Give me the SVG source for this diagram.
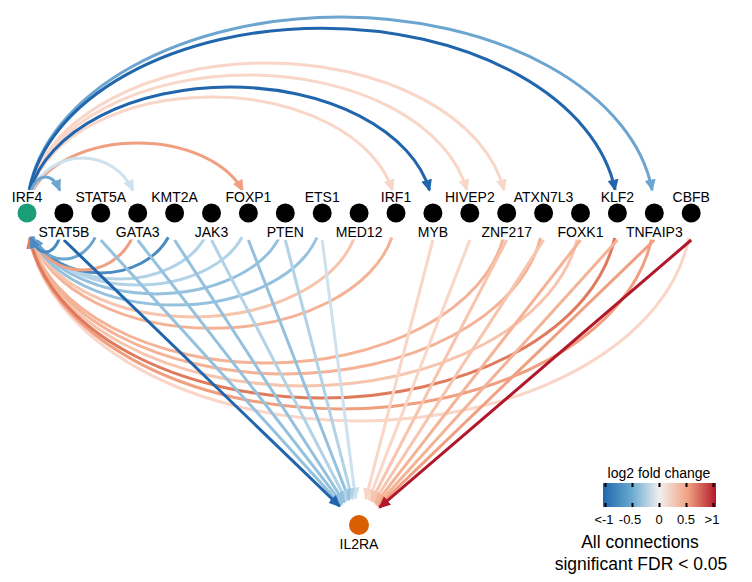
<svg xmlns="http://www.w3.org/2000/svg" width="752" height="582" viewBox="0 0 752 582">
<defs>
<style>
.e{fill:none;stroke-width:3}
.B1{stroke:#2166ac;marker-end:url(#mB1)}
.B2{stroke:#4a8ac0;marker-end:url(#mB2)}
.B3{stroke:#6ca6d0;marker-end:url(#mB3)}
.B4{stroke:#94c1dd;marker-end:url(#mB4)}
.B5{stroke:#b2d3e7;marker-end:url(#mB5)}
.B6{stroke:#cde1ee;marker-end:url(#mB6)}
.R6{stroke:#f9d6c7;marker-end:url(#mR6)}
.R5{stroke:#f7c5ae;marker-end:url(#mR5)}
.R4{stroke:#f4b396;marker-end:url(#mR4)}
.R3{stroke:#f0a081;marker-end:url(#mR3)}
.R2{stroke:#df7a5c;marker-end:url(#mR2)}
.R1{stroke:#b2182b;marker-end:url(#mR1)}
.lb{fill:#ffffff}
.nd{fill:#000000}
.t{font-family:"Liberation Sans",Arial,Helvetica,sans-serif;font-size:14px;text-anchor:middle;fill:#000}
.lg{font-family:"Liberation Sans",Arial,Helvetica,sans-serif;text-anchor:middle;fill:#000}
</style>
<marker id="mB1" viewBox="0 0 12 12" refX="10.5" refY="6" markerWidth="12" markerHeight="12" markerUnits="userSpaceOnUse" orient="auto"><path d="M0,0.5L12,6L0,11.5z" fill="#2166ac"/></marker>
<marker id="mB2" viewBox="0 0 12 12" refX="10.5" refY="6" markerWidth="12" markerHeight="12" markerUnits="userSpaceOnUse" orient="auto"><path d="M0,0.5L12,6L0,11.5z" fill="#4a8ac0"/></marker>
<marker id="mB3" viewBox="0 0 12 12" refX="10.5" refY="6" markerWidth="12" markerHeight="12" markerUnits="userSpaceOnUse" orient="auto"><path d="M0,0.5L12,6L0,11.5z" fill="#6ca6d0"/></marker>
<marker id="mB4" viewBox="0 0 12 12" refX="10.5" refY="6" markerWidth="12" markerHeight="12" markerUnits="userSpaceOnUse" orient="auto"><path d="M0,0.5L12,6L0,11.5z" fill="#94c1dd"/></marker>
<marker id="mB5" viewBox="0 0 12 12" refX="10.5" refY="6" markerWidth="12" markerHeight="12" markerUnits="userSpaceOnUse" orient="auto"><path d="M0,0.5L12,6L0,11.5z" fill="#b2d3e7"/></marker>
<marker id="mB6" viewBox="0 0 12 12" refX="10.5" refY="6" markerWidth="12" markerHeight="12" markerUnits="userSpaceOnUse" orient="auto"><path d="M0,0.5L12,6L0,11.5z" fill="#cde1ee"/></marker>
<marker id="mR6" viewBox="0 0 12 12" refX="10.5" refY="6" markerWidth="12" markerHeight="12" markerUnits="userSpaceOnUse" orient="auto"><path d="M0,0.5L12,6L0,11.5z" fill="#f9d6c7"/></marker>
<marker id="mR5" viewBox="0 0 12 12" refX="10.5" refY="6" markerWidth="12" markerHeight="12" markerUnits="userSpaceOnUse" orient="auto"><path d="M0,0.5L12,6L0,11.5z" fill="#f7c5ae"/></marker>
<marker id="mR4" viewBox="0 0 12 12" refX="10.5" refY="6" markerWidth="12" markerHeight="12" markerUnits="userSpaceOnUse" orient="auto"><path d="M0,0.5L12,6L0,11.5z" fill="#f4b396"/></marker>
<marker id="mR3" viewBox="0 0 12 12" refX="10.5" refY="6" markerWidth="12" markerHeight="12" markerUnits="userSpaceOnUse" orient="auto"><path d="M0,0.5L12,6L0,11.5z" fill="#f0a081"/></marker>
<marker id="mR2" viewBox="0 0 12 12" refX="10.5" refY="6" markerWidth="12" markerHeight="12" markerUnits="userSpaceOnUse" orient="auto"><path d="M0,0.5L12,6L0,11.5z" fill="#df7a5c"/></marker>
<marker id="mR1" viewBox="0 0 12 12" refX="10.5" refY="6" markerWidth="12" markerHeight="12" markerUnits="userSpaceOnUse" orient="auto"><path d="M0,0.5L12,6L0,11.5z" fill="#b2182b"/></marker>
<linearGradient id="lfc" x1="0" y1="0" x2="1" y2="0">
<stop offset="0" stop-color="#2166ac"/>
<stop offset="0.25" stop-color="#67a9cf"/>
<stop offset="0.5" stop-color="#f2efee"/>
<stop offset="0.75" stop-color="#f1a283"/>
<stop offset="1" stop-color="#b2182b"/>
</linearGradient>
</defs>
<rect width="752" height="582" fill="#ffffff"/>

<g id="edges">
<!-- arcs below: targets -> IRF4 -->
<path class="e R6" d="M688.8,237.9 A332.1,208 0 0 1 29.4,237.9"/>
<path class="e R5" d="M577.6,237.9 A276.75,173 0 0 1 29.9,237.9"/>
<path class="e R3" d="M651.75,237.9 A313.65,196 0 0 1 29.55,237.9"/>
<path class="e R4" d="M540.5,237.8 A258.3,161 0 0 1 30.1,237.8"/>
<path class="e R4" d="M503.4,237.8 A239.85,150 0 0 1 30.3,237.8"/>
<path class="e R2" d="M614.7,237.9 A295.2,185 0 0 1 29.7,237.9"/>
<path class="e R4" d="M391.8,237.6 A184.5,115 0 0 1 31.2,237.6"/>
<path class="e R5" d="M354.4,237.5 A166.05,104 0 0 1 31.7,237.5"/>
<path class="e B4" d="M316.9,237.5 A147.6,92 0 0 1 32.3,237.5"/>
<path class="e B4" d="M279.3,237.3 A129.15,81 0 0 1 33,237.3"/>
<path class="e B5" d="M242,237.2 A110.7,72 0 0 1 33.4,237.2"/>
<path class="e B5" d="M205.1,237.2 A92.25,66 0 0 1 33.4,237.2"/>
<path class="e B2" d="M168.3,237.2 A73.8,60 0 0 1 33.3,237.2"/>
<path class="e R3" d="M132.4,237.4 A55.35,57 0 0 1 32.3,237.4"/>
<path class="e B3" d="M95.2,237.4 A36.9,46 0 0 1 32.6,237.4"/>
<path class="e B2" d="M59.8,237.5 A18.45,39 0 0 1 31.1,237.5"/>
<!-- straight lines to IL2RA -->
<path class="e B6" d="M322.2,240 L355.5,498.2"/>
<path class="e B5" d="M285.3,240 L352.2,498.9"/>
<path class="e B4" d="M248.4,240 L349.2,499.8"/>
<path class="e B5" d="M211.5,240 L346.6,501"/>
<path class="e B4" d="M174.6,240 L344.3,502.3"/>
<path class="e B4" d="M137.7,240 L342.4,503.7"/>
<path class="e B4" d="M100.8,240 L340.9,505"/>
<path class="e B1" d="M63.9,240 L339.6,506.2"/>
<path class="e R6" d="M432.9,240 L365.8,498.9"/>
<path class="e R6" d="M469.8,240 L368.8,499.8"/>
<path class="e R5" d="M506.7,240 L371.4,501"/>
<path class="e R5" d="M543.6,240 L373.7,502.3"/>
<path class="e R4" d="M580.5,240 L375.6,503.7"/>
<path class="e R4" d="M617.4,240 L377.1,505"/>
<path class="e R3" d="M654.3,240 L378.4,506.2"/>
<path class="e R1" d="M691.2,240 L379.5,507.4"/>
<!-- arcs above: IRF4 -> targets -->
<path class="e R6" d="M29.8,190.1 A239.85,150 0 0 1 503.9,190.1"/>
<path class="e R6" d="M30.06,190.1 A221.4,138 0 0 1 466.74,190.1"/>
<path class="e R6" d="M30.6,190.2 A184.5,116 0 0 1 392.4,190.2"/>
<path class="e B1" d="M30.35,190.2 A202.95,126 0 0 1 429.55,190.2"/>
<path class="e B3" d="M29.15,190.1 A313.65,196 0 0 1 652.15,190.1"/>
<path class="e B1" d="M29.3,190.1 A295.2,185 0 0 1 615.1,190.1"/>
<path class="e R3" d="M32.8,190.65 A110.7,70 0 0 1 242.6,190.65"/>
<path class="e B6" d="M31.85,190.5 A55.35,55 0 0 1 132.85,190.5"/>
<path class="e B3" d="M31.1,190.4 A18.45,36 0 0 1 59.8,190.4"/>
</g>

<g id="node-IRF4"><rect class="lb" x="9.85" y="190" width="34.3" height="14.5"/><circle cx="27" cy="213" r="9.5" fill="#1b9e77"/><text class="t" x="27" y="201.5">IRF4</text></g>
<g id="node-STAT5B"><rect class="lb" x="35.45" y="223" width="56.9" height="16.5"/><circle class="nd" cx="63.9" cy="213" r="9.5"/><text class="t" x="63.9" y="236.5">STAT5B</text></g>
<g id="node-STAT5A"><rect class="lb" x="72.35" y="190" width="56.9" height="14.5"/><circle class="nd" cx="100.8" cy="213" r="9.5"/><text class="t" x="100.8" y="201.5">STAT5A</text></g>
<g id="node-GATA3"><rect class="lb" x="112.75" y="223" width="49.9" height="16.5"/><circle class="nd" cx="137.7" cy="213" r="9.5"/><text class="t" x="137.7" y="236.5">GATA3</text></g>
<g id="node-KMT2A"><rect class="lb" x="149.25" y="190" width="50.7" height="14.5"/><circle class="nd" cx="174.6" cy="213" r="9.5"/><text class="t" x="174.6" y="201.5">KMT2A</text></g>
<g id="node-JAK3"><rect class="lb" x="192.75" y="223" width="37.5" height="16.5"/><circle class="nd" cx="211.5" cy="213" r="9.5"/><text class="t" x="211.5" y="236.5">JAK3</text></g>
<g id="node-FOXP1"><rect class="lb" x="223.45" y="190" width="49.9" height="14.5"/><circle class="nd" cx="248.4" cy="213" r="9.5"/><text class="t" x="248.4" y="201.5">FOXP1</text></g>
<g id="node-PTEN"><rect class="lb" x="264.65" y="223" width="41.3" height="16.5"/><circle class="nd" cx="285.3" cy="213" r="9.5"/><text class="t" x="285.3" y="236.5">PTEN</text></g>
<g id="node-ETS1"><rect class="lb" x="302.7" y="190" width="39" height="14.5"/><circle class="nd" cx="322.2" cy="213" r="9.5"/><text class="t" x="322.2" y="201.5">ETS1</text></g>
<g id="node-MED12"><rect class="lb" x="333.75" y="223" width="50.7" height="16.5"/><circle class="nd" cx="359.1" cy="213" r="9.5"/><text class="t" x="359.1" y="236.5">MED12</text></g>
<g id="node-IRF1"><rect class="lb" x="378.85" y="190" width="34.3" height="14.5"/><circle class="nd" cx="396" cy="213" r="9.5"/><text class="t" x="396" y="201.5">IRF1</text></g>
<g id="node-MYB"><rect class="lb" x="415.75" y="223" width="34.3" height="16.5"/><circle class="nd" cx="432.9" cy="213" r="9.5"/><text class="t" x="432.9" y="236.5">MYB</text></g>
<g id="node-HIVEP2"><rect class="lb" x="442.9" y="190" width="53.8" height="14.5"/><circle class="nd" cx="469.8" cy="213" r="9.5"/><text class="t" x="469.8" y="201.5">HIVEP2</text></g>
<g id="node-ZNF217"><rect class="lb" x="479.4" y="223" width="54.6" height="16.5"/><circle class="nd" cx="506.7" cy="213" r="9.5"/><text class="t" x="506.7" y="236.5">ZNF217</text></g>
<g id="node-ATXN7L3"><rect class="lb" x="511.25" y="190" width="64.7" height="14.5"/><circle class="nd" cx="543.6" cy="213" r="9.5"/><text class="t" x="543.6" y="201.5">ATXN7L3</text></g>
<g id="node-FOXK1"><rect class="lb" x="555.55" y="223" width="49.9" height="16.5"/><circle class="nd" cx="580.5" cy="213" r="9.5"/><text class="t" x="580.5" y="236.5">FOXK1</text></g>
<g id="node-KLF2"><rect class="lb" x="598.65" y="190" width="37.5" height="14.5"/><circle class="nd" cx="617.4" cy="213" r="9.5"/><text class="t" x="617.4" y="201.5">KLF2</text></g>
<g id="node-TNFAIP3"><rect class="lb" x="623.5" y="223" width="61.6" height="16.5"/><circle class="nd" cx="654.3" cy="213" r="9.5"/><text class="t" x="654.3" y="236.5">TNFAIP3</text></g>
<g id="node-CBFB"><rect class="lb" x="670.55" y="190" width="41.3" height="14.5"/><circle class="nd" cx="691.2" cy="213" r="9.5"/><text class="t" x="691.2" y="201.5">CBFB</text></g>
<g id="node-IL2RA"><circle cx="359" cy="525" r="10" fill="#d95f02"/><text class="t" x="359" y="548.5">IL2RA</text></g>

<g id="legend">
<text class="lg" x="659" y="478" font-size="14">log2 fold change</text>
<rect x="603" y="483" width="113" height="24" fill="url(#lfc)"/>
<g fill="#000">
<rect x="604.5" y="483" width="2" height="4"/><rect x="604.5" y="503" width="2" height="4"/>
<rect x="631.5" y="483" width="2" height="4"/><rect x="631.5" y="503" width="2" height="4"/>
<rect x="658.5" y="483" width="2" height="4"/><rect x="658.5" y="503" width="2" height="4"/>
<rect x="685.5" y="483" width="2" height="4"/><rect x="685.5" y="503" width="2" height="4"/>
<rect x="712.5" y="483" width="2" height="4"/><rect x="712.5" y="503" width="2" height="4"/>
</g>
<text class="lg" x="604" y="524" font-size="13">&lt;-1</text>
<text class="lg" x="630" y="524" font-size="13">-0.5</text>
<text class="lg" x="659" y="524" font-size="13">0</text>
<text class="lg" x="686" y="524" font-size="13">0.5</text>
<text class="lg" x="712" y="524" font-size="13">&gt;1</text>
<text class="lg" x="640" y="548" font-size="17.5">All connections</text>
<text class="lg" x="641" y="570" font-size="17.5">significant FDR &lt; 0.05</text>
</g>
</svg>
